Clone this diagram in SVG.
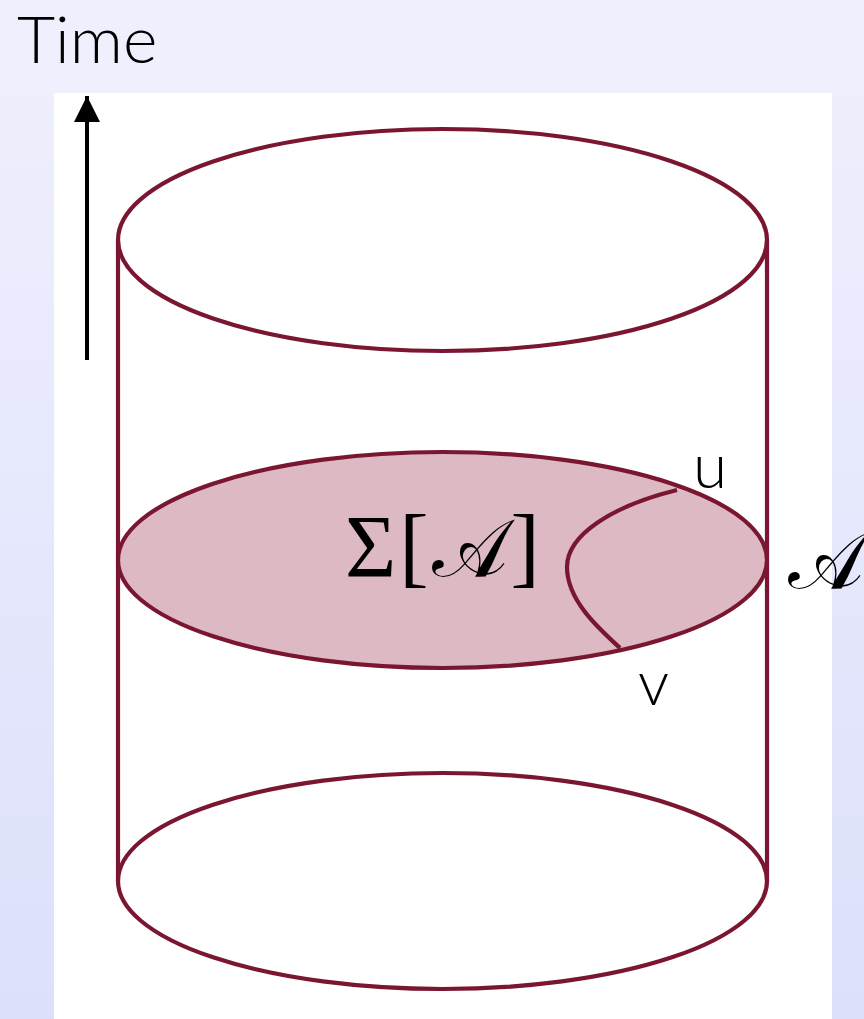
<svg xmlns="http://www.w3.org/2000/svg" width="864" height="1019" viewBox="0 0 864 1019">
<defs>
<linearGradient id="bg" x1="0" y1="0" x2="0" y2="1">
<stop offset="0" stop-color="#f0f0fd"/>
<stop offset="1" stop-color="#dce0fb"/>
</linearGradient>
<marker id="ah" viewBox="0 0 10 10" refX="10" refY="5" markerWidth="6.5" markerHeight="6.5" markerUnits="strokeWidth" orient="auto">
<path d="M0,0 L10,5 L0,10 Z" fill="#000"/>
</marker>
<style>
.cyl{fill:none;stroke:#7a1630;stroke-width:4.2}
.lbl{font-family:"Lato","Liberation Sans",sans-serif;font-weight:300;fill:#000}
.math{font-family:"Liberation Serif","DejaVu Serif",serif;fill:#000}
</style>
</defs>
<rect width="864" height="1019" fill="url(#bg)"/>
<rect x="54" y="93" width="778" height="926" fill="#fff"/>
<g id="time-axis">
<line x1="87" y1="360" x2="87" y2="96" stroke="#000" stroke-width="4" marker-end="url(#ah)"/>
<text class="lbl" x="17" y="63" font-size="66">Time</text>
</g>
<g id="cylinder">
<line class="cyl" x1="118" y1="240" x2="118" y2="881"/>
<line class="cyl" x1="767" y1="240" x2="767" y2="881"/>
<ellipse id="top" class="cyl" cx="442.5" cy="240" rx="324.5" ry="111"/>
<ellipse id="bottom" class="cyl" cx="442.5" cy="881" rx="324.5" ry="108"/>
</g>
<g id="slice">
<ellipse cx="442.5" cy="560" rx="324.5" ry="108" fill="#dcb9c3" stroke="#7a1630" stroke-width="4.2"/>
<path class="cyl" d="M677,490 C612,506 567,535 567,567 C567,600 598,628 620,648"/>
<text class="math" x="345" y="576" font-size="88" letter-spacing="3">Σ[<tspan font-size="80">𝒜</tspan>]</text>
</g>
<g id="labels">
<text class="lbl" x="693" y="488" font-size="62">u</text>
<text class="lbl" x="638" y="705" font-size="62">v</text>
<text class="math" x="788" y="588" font-size="80">𝒜</text>
</g>
</svg>
